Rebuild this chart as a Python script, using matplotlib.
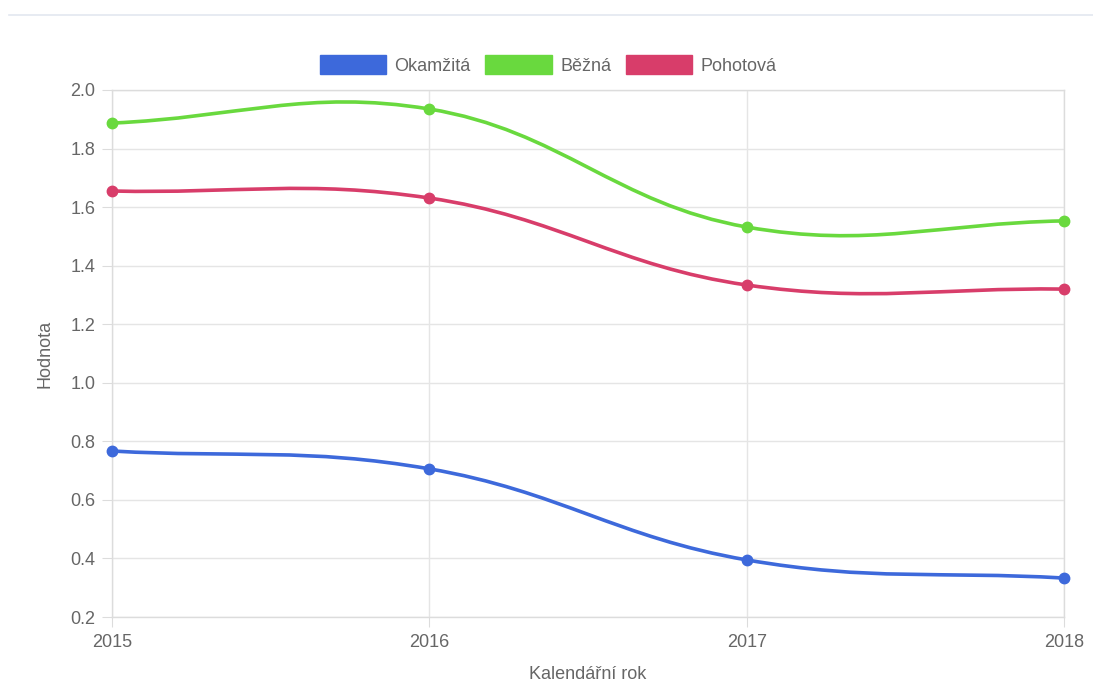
import numpy as np
import matplotlib
matplotlib.use("Agg")
import matplotlib.pyplot as plt
import matplotlib.patches as mpatches
from matplotlib.path import Path

plt.rcParams['font.family'] = ['Liberation Sans', 'DejaVu Sans']

# data
years = [2015, 2016, 2017, 2018]
okamzita = [0.767, 0.706, 0.395, 0.333]
bezna = [1.887, 1.935, 1.532, 1.553]
pohotova = [1.655, 1.631, 1.334, 1.320]

series = [
    ("Okamžitá", okamzita, "#3d69db"),
    ("Běžná", bezna, "#69d93e"),
    ("Pohotová", pohotova, "#d83d6a"),
]

W, H = 1093, 684
fig = plt.figure(figsize=(W / 100, H / 100), dpi=100)
ax = fig.add_axes([112 / W, 67 / H, (1064 - 112) / W, (617 - 90) / H])

ax.set_xlim(2015, 2018)
ax.set_ylim(0.2, 2.0)

# pixel scale, used for chart.js-like spline distances
sx = (1064 - 112) / 3.0
sy = (617 - 90) / 1.8


def spline_path(xs, ys, t=0.4):
    pts = np.array([[x * sx, y * sy] for x, y in zip(xs, ys)])
    n = len(pts)
    cps = []
    for i in range(n):
        prev = pts[max(i - 1, 0)]
        cur = pts[i]
        nxt = pts[min(i + 1, n - 1)]
        d01 = np.hypot(*(cur - prev))
        d12 = np.hypot(*(nxt - cur))
        tot = d01 + d12
        s01 = d01 / tot if tot else 0
        s12 = d12 / tot if tot else 0
        fa = t * s01
        fb = t * s12
        cps.append((cur - fa * (nxt - prev), cur + fb * (nxt - prev)))
    verts = [pts[0]]
    codes = [Path.MOVETO]
    for i in range(n - 1):
        verts += [cps[i][1], cps[i + 1][0], pts[i + 1]]
        codes += [Path.CURVE4] * 3
    verts = np.array(verts) / np.array([sx, sy])
    return Path(verts, codes)


for name, vals, col in series:
    p = mpatches.PathPatch(spline_path(years, vals), facecolor="none",
                           edgecolor=col, lw=2.6, capstyle="round",
                           joinstyle="round", zorder=3, clip_on=False)
    ax.add_patch(p)
    ax.plot(years, vals, "o", color=col, ms=7.5, zorder=4, clip_on=False)

grid_col = "#e5e5e5"
ax.set_yticks(np.arange(0.2, 2.01, 0.2))
ax.set_xticks(years)
ax.set_yticklabels([f"{v:.1f}" for v in np.arange(0.2, 2.01, 0.2)])
ax.grid(True, color=grid_col, lw=1)
ax.set_axisbelow(True)
for s in ax.spines.values():
    s.set_color("#dcdcdc")
    s.set_linewidth(1)
ax.tick_params(axis="both", colors="#dcdcdc", labelcolor="#666666",
               labelsize=13, length=7)
ax.tick_params(axis="y", pad=5)
ax.tick_params(axis="x", pad=5)

ax.set_ylabel("Hodnota", fontsize=13, color="#666666", labelpad=12)
ax.set_xlabel("Kalendářní rok", fontsize=13, color="#666666", labelpad=11)

handles = [mpatches.Patch(facecolor=c, edgecolor=c, label=n) for n, v, c in series]
fig.legend(handles=handles, loc="center", bbox_to_anchor=(548 / W, 1 - 65 / H),
           ncol=3, frameon=False, fontsize=13, labelcolor="#666666",
           handlelength=3.7, handleheight=1.25, handletextpad=0.45,
           columnspacing=0.8)

# thin top border line like the page frame
fig.add_artist(plt.Line2D([9 / W, 1], [1 - 14.5 / H, 1 - 14.5 / H],
                          color="#e3e8f0", lw=1.2))

fig.savefig("out.png", dpi=100)
